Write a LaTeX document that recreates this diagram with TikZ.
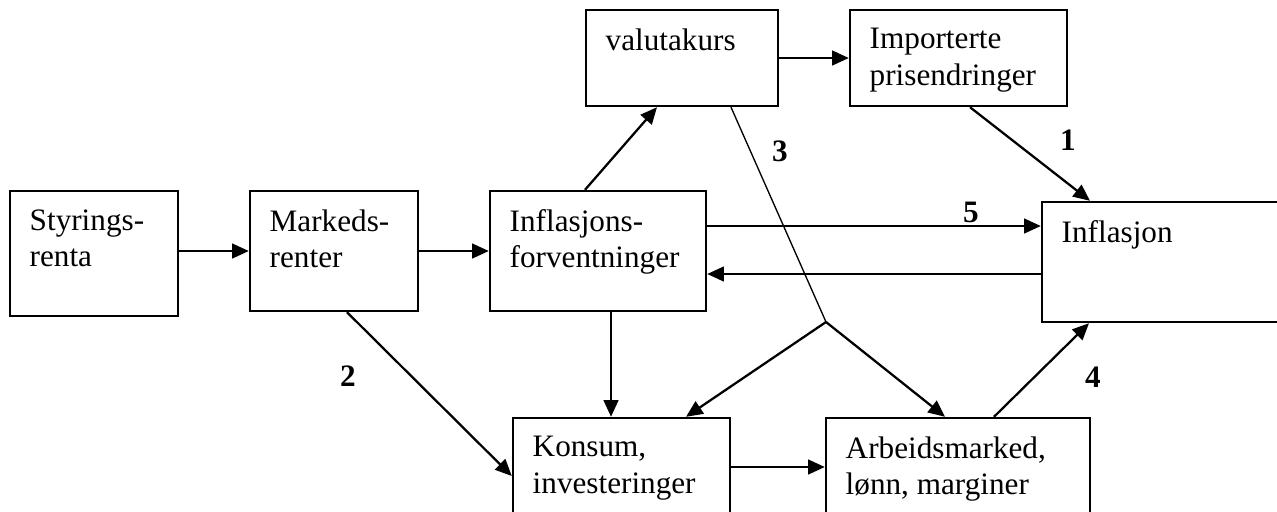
\documentclass[tikz,border=0pt]{standalone}
\usepackage{fontspec}
\setmainfont{Liberation Serif}
\usetikzlibrary{arrows.meta}
\usetikzlibrary{calc}

\tikzset{
  boks/.style={draw, line width=1.8pt, inner sep=0pt},
  tekst/.style={anchor=north west, align=left, inner xsep=15.5pt, inner ysep=14.5pt,
    font=\fontsize{23.4}{27.4}\selectfont},
  pil/.style={line width=1.7pt, -{Triangle[length=12.5pt,width=11pt]}},
  tynn/.style={line width=1pt},
  tall/.style={inner sep=0pt, font=\fontsize{23.4}{27.4}\selectfont\bfseries},
}

\begin{document}
\begin{tikzpicture}[x=0.75pt,y=0.75pt,yscale=-1,xscale=1]
\clip[use as bounding box] (0,0) rectangle (1277,511);

%Shape: Rectangle
\node[boks, minimum width=126pt, minimum height=93.75pt] (styr) at (94,253.5) {};
\node[tekst] (styr-t) at (styr.north west) {Styrings-\\renta};
%Shape: Rectangle
\node[boks, minimum width=126pt, minimum height=90pt] (mark) at (334,251) {};
\node[tekst] (mark-t) at (mark.north west) {Markeds-\\renter};
%Shape: Rectangle
\node[boks, minimum width=162pt, minimum height=90pt] (forv) at (598,251) {};
\node[tekst] (forv-t) at (forv.north west) {Inflasjons-\\forventninger};
%Shape: Rectangle
\node[boks, minimum width=144pt, minimum height=72pt] (valuta) at (682,58) {};
\node[tekst] (valuta-t) at (valuta.north west) {valutakurs};
%Shape: Rectangle
\node[boks, minimum width=162.75pt, minimum height=72pt] (import) at (958.5,58) {};
\node[tekst] (import-t) at (import.north west) {Importerte\\prisendringer};
%Shape: Rectangle
\node[boks, minimum width=193.5pt, minimum height=90pt] (infl) at (1171,262) {};
\node[tekst] (infl-t) at (infl.north west) {Inflasjon};
%Shape: Rectangle
\node[boks, minimum width=162.75pt, minimum height=91.5pt] (kons) at (621.5,479) {};
\node[tekst] (kons-t) at (kons.north west) {Konsum,\\investeringer};
%Shape: Rectangle
\node[boks, minimum width=198pt, minimum height=91.5pt] (arb) at (958,479) {};
\node[tekst] (arb-t) at (arb.north west) {Arbeidsmarked,\\lønn, marginer};

%Straight Lines
\draw[pil] (styr.east |- mark) -- (mark.west);
\draw[pil] (mark) -- (forv);
\draw[pil] ($(forv.north)+(-13,0)$) -- ($(valuta.south)+(-25,0)$);
\draw[pil] (valuta) -- (import);
\draw[pil] ($(import.south)+(11.5,0)$) -- ($(infl.north)+(-81,0)$);

\coordinate (fram) at ($(forv.east)+(0,-25)$);
\coordinate (tilb) at ($(forv.east)+(0,23)$);
\draw[pil] (fram) -- (fram -| infl.west);
\draw[pil] (tilb -| infl.west) -- (tilb);

\coordinate (ned) at ($(forv.south)+(13,0)$);
\draw[pil] (ned) -- (ned |- kons.north);
\draw[pil] ($(mark.south)+(13,0)$) -- ($(kons.west)+(0,-3)$);

\coordinate (ut) at ($(kons.east)+(0,-12)$);
\draw[pil] (ut) -- (ut -| arb.west);
\draw[pil] ($(arb.north)+(36,0)$) -- ($(infl.south)+(-82,0)$);

%Straight Lines
\coordinate (knekk) at (826,322);
\draw[tynn] ($(valuta.south)+(49,0)$) -- (knekk);
\draw[pil] (knekk) -- ($(kons.north)+(64.5,0)$);
\draw[pil] (knekk) -- ($(arb.north)+(-13,0)$);

%Text
\node[tall] (n1) at (1068,140) {1};
\node[tall] (n2) at (348,376) {2};
\node[tall] (n3) at (780,151) {3};
\node[tall] (n4) at (1093,377) {4};
\node[tall] (n5) at (971,212) {5};

\end{tikzpicture}
\end{document}
